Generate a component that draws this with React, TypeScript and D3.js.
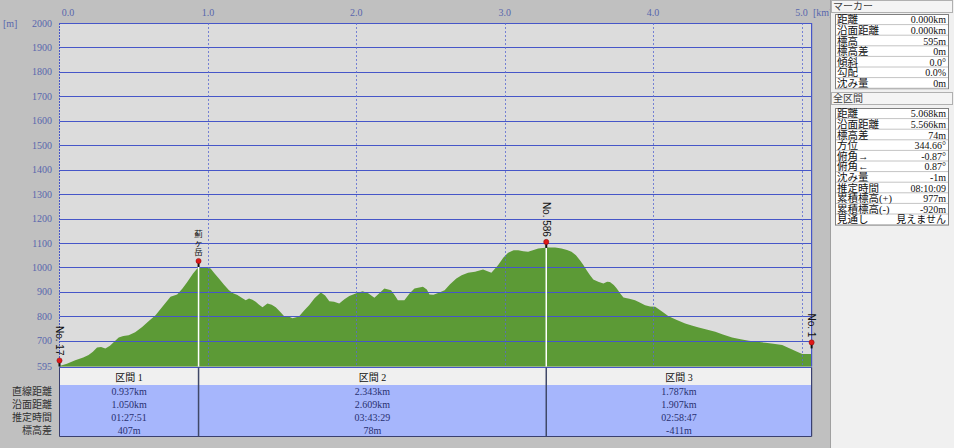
import * as d3 from 'd3';

const W = 954;
const H = 448;

// elevation profile (horizontal km, metres)
const profileKm = [
  0.0, 0.05, 0.106, 0.16, 0.196, 0.225, 0.253, 0.28, 0.309, 0.34, 0.399, 0.43, 0.466, 0.51, 0.557, 0.6, 0.647,
  0.7, 0.748, 0.793, 0.83, 0.861, 0.9, 0.928, 0.955, 0.985, 1.018, 1.045, 1.074, 1.11, 1.142, 1.17, 1.199, 1.23,
  1.255, 1.277, 1.3, 1.322, 1.345, 1.368, 1.401, 1.43, 1.457, 1.485, 1.514, 1.545, 1.57, 1.595, 1.615, 1.65, 1.682,
  1.72, 1.761, 1.79, 1.818, 1.85, 1.885, 1.92, 1.953, 2.0, 2.043, 2.08, 2.122, 2.155, 2.189, 2.234, 2.26, 2.28,
  2.324, 2.36, 2.392, 2.449, 2.475, 2.493, 2.52, 2.56, 2.595, 2.63, 2.674, 2.71, 2.753, 2.8, 2.854, 2.88, 2.91,
  2.955, 2.99, 3.023, 3.06, 3.091, 3.125, 3.158, 3.195, 3.226, 3.289, 3.34, 3.383, 3.42, 3.45, 3.48, 3.507, 3.53,
  3.552, 3.575, 3.597, 3.63, 3.665, 3.69, 3.709, 3.735, 3.755, 3.78, 3.8, 3.84, 3.878, 3.91, 3.946, 3.98, 4.014,
  4.06, 4.104, 4.16, 4.216, 4.26, 4.307, 4.36, 4.419, 4.47, 4.532, 4.59, 4.645, 4.7, 4.757, 4.81, 4.87, 4.91,
  4.937, 4.97, 5.005, 5.068,
];
const profileElev = [
  597, 606, 621, 632, 642, 655, 673, 675, 669, 680, 714, 720, 723, 735, 757, 780, 805,
  845, 880, 890, 915, 941, 975, 996, 1002, 1002, 996, 975, 955, 928, 907, 895, 887, 875,
  866, 873, 868, 860, 848, 837, 853, 848, 837, 820, 801, 800, 792, 796, 801, 825, 846,
  875, 898, 885, 862, 860, 853, 870, 883, 895, 903, 895, 876, 895, 914, 907, 885, 866,
  866, 895, 914, 921, 910, 890, 888, 898, 907, 930, 955, 968, 978, 983, 992, 986, 978,
  1009, 1040, 1060, 1070, 1071, 1066, 1064, 1072, 1078, 1082, 1082, 1078, 1072, 1064, 1050, 1030, 1010,
  989, 968, 951, 942, 935, 942, 941, 928, 914, 893, 877, 872, 866, 857, 846, 840, 839,
  820, 801, 785, 771, 763, 755, 746, 737, 726, 714, 706, 700, 696, 692, 688, 683, 672,
  665, 655, 646, 646,
];

const yTicks = [595, 700, 800, 900, 1000, 1100, 1200, 1300, 1400, 1500, 1600, 1700, 1800, 1900, 2000];
const xTicks = [0, 1, 2, 3, 4, 5];

const sectionBounds = [0, 0.937, 3.28, 5.068];
const sectionNames = ['区間 1', '区間 2', '区間 3'];
const straightDist = ['0.937km', '2.343km', '1.787km'];
const surfaceDist = ['1.050km', '2.609km', '1.907km'];
const estTime = ['01:27:51', '03:43:29', '02:58:47'];
const elevDiff = ['407m', '78m', '-411m'];
const rowLabels = ['直線距離', '沿面距離', '推定時間', '標高差'];

const markerNames = ['No. 17', '薊ヶ岳', 'No. 586', 'No. 1'];
const markerKm = [0, 0.937, 3.28, 5.068];
const markerElev = [595, 1002, 1080, 669];

const markerInfoLabels = ['距離', '沿面距離', '標高', '標高差', '傾斜', '勾配', '沈み量'];
const markerInfoValues = ['0.000km', '0.000km', '595m', '0m', '0.0°', '0.0%', '0m'];
const totalLabels = ['距離', '沿面距離', '標高差', '方位', '俯角→', '俯角←', '沈み量', '推定時間', '累積標高(+)', '累積標高(-)', '見通し'];
const totalValues = ['5.068km', '5.566km', '74m', '344.66°', '-0.87°', '0.87°', '-1m', '08:10:09', '977m', '-920m', '見えません'];

const serif = "'Liberation Serif', 'Noto Sans CJK JP', serif";
const sans = "'Liberation Sans', 'Noto Sans CJK JP', sans-serif";

const plotLeft = 59.5;
const plotRight = 811.6;
const plotTop = 23;
const plotBottom = 366.5;

const x = d3.scaleLinear().domain([0, 5.068]).range([plotLeft, plotRight]);
const y = d3.scaleLinear().domain([595, 2000]).range([plotBottom, plotTop]);
const crisp = (v: number) => Math.round(v) + 0.5;

const profile = profileKm.map((k, i) => ({ km: k, elev: profileElev[i] }));
const area = d3
  .area<{ km: number; elev: number }>()
  .x((d) => x(d.km))
  .y0(plotBottom)
  .y1((d) => y(d.elev));

const InfoTable = ({ top, labels, values }: { top: number; labels: string[]; values: string[] }) => {
  const rowH = 10.6;
  return (
    <g>
      <rect x={835.5} y={top} width={113} height={labels.length * rowH} fill="#ffffff" stroke="#808080" />
      {labels.map((l, i) => (
        <g key={l + i}>
          <line x1={836} x2={948} y1={top + (i + 1) * rowH - 0.5} y2={top + (i + 1) * rowH - 0.5} stroke="#c4c4c4" />
          <text x={837} y={top + i * rowH + 8.8} fontSize={10.5} fontFamily={serif} fill="#101010">{l}</text>
          <text x={946} y={top + i * rowH + 8.8} fontSize={10} fontFamily={serif} fill="#101010" textAnchor="end">{values[i]}</text>
        </g>
      ))}
    </g>
  );
};

export default function App() {
  const tableTop = 367.5;
  const headH = 17.5;
  const rowY = [391, 404, 417, 430];
  const rowsData = [straightDist, surfaceDist, estTime, elevDiff];

  return (
    <svg width={W} height={H} style={{ position: 'absolute', left: 0, top: 0 }}>
      <rect x={0} y={0} width={W} height={H} fill="#c0c0c0" />

      {/* plot */}
      <rect x={plotLeft} y={plotTop} width={plotRight - plotLeft} height={plotBottom - plotTop} fill="#dcdcdc" />
      <path d={area(profile) || ''} fill="#5c9a36" />

      {yTicks.map((t) => (
        <g key={t}>
          <line x1={plotLeft} x2={plotRight} y1={crisp(y(t))} y2={crisp(y(t))} stroke="#4656c8" strokeWidth={1.2} />
          <text x={52} y={y(t) + 3.5} fontSize={10} fontFamily={serif} fill="#5866ad" textAnchor="end">{t}</text>
        </g>
      ))}
      {xTicks.map((t) => (
        <g key={t}>
          {t > 0 && (
            <line x1={crisp(x(t))} x2={crisp(x(t))} y1={plotTop} y2={plotBottom} stroke="#5a6ad0" strokeWidth={0.8} strokeDasharray="2,2" />
          )}
          <text x={t === 0 ? x(t) + 8.5 : x(t)} y={16} fontSize={10} fontFamily={serif} fill="#5866ad" textAnchor="middle">
            {t.toFixed(1)}
          </text>
        </g>
      ))}
      <line x1={plotLeft} x2={plotLeft} y1={plotTop} y2={plotBottom} stroke="#4656c8" strokeWidth={1} strokeDasharray="2,1" />
      <line x1={plotRight} x2={plotRight} y1={plotTop} y2={plotBottom} stroke="#4656c8" strokeWidth={1.2} />
      <text x={3} y={27} fontSize={10} fontFamily={serif} fill="#5866ad">[m]</text>
      <text x={813} y={16} fontSize={10} fontFamily={serif} fill="#5866ad">[km]</text>

      {/* markers */}
      {markerKm.map((k, i) => {
        const mx = x(k);
        const my = y(markerElev[i]);
        const name = markerNames[i];
        const vertical = /[^\x00-\x7f]/.test(name);
        const inner = i > 0 && i < markerKm.length - 1;
        return (
          <g key={name}>
            {inner && <line x1={mx} x2={mx} y1={my} y2={plotBottom} stroke="#ffffff" strokeWidth={1.5} />}
            <line x1={mx} x2={mx} y1={my - 5} y2={my} stroke="#111" strokeWidth={2} />
            <circle cx={mx} cy={my - 6} r={2.6} fill="#e01818" stroke="#801010" strokeWidth={0.5} />
            {vertical ? (
              <text fontSize={8.5} fontFamily={sans} fill="#111" textAnchor="middle">
                {name.split('').map((c, j) => (
                  <tspan key={j} x={mx} y={my - 29.5 + j * 9}>{c}</tspan>
                ))}
              </text>
            ) : (
              <text
                transform={`translate(${mx - 3.3},${my - 11}) rotate(90)`}
                fontSize={10}
                fontFamily={sans}
                fill="#111"
                textAnchor="end"
              >
                {name}
              </text>
            )}
          </g>
        );
      })}

      {/* section table */}
      <rect x={plotLeft} y={tableTop} width={plotRight - plotLeft} height={headH} fill="#f0f0f0" />
      <rect x={plotLeft} y={tableTop + headH} width={plotRight - plotLeft} height={436 - tableTop - headH} fill="#a6b6fc" />
      <line x1={plotLeft} x2={plotRight} y1={tableTop} y2={tableTop} stroke="#4656c8" strokeWidth={1.2} />
      <line x1={plotLeft} x2={plotRight} y1={436.5} y2={436.5} stroke="#3a4070" strokeWidth={1.2} />
      <line x1={plotLeft} x2={plotLeft} y1={tableTop} y2={436.5} stroke="#3a4070" strokeWidth={1} />
      <line x1={plotRight} x2={plotRight} y1={tableTop} y2={436.5} stroke="#3a4070" strokeWidth={1.2} />
      {sectionNames.map((s, i) => {
        const x0 = x(sectionBounds[i]);
        const x1 = x(sectionBounds[i + 1]);
        const cx = (x0 + x1) / 2;
        return (
          <g key={s}>
            {i > 0 && <line x1={x0} x2={x0} y1={tableTop} y2={436.5} stroke="#404868" strokeWidth={1.5} />}
            <text x={cx} y={tableTop + 13} fontSize={10} fontFamily={serif} fill="#101010" textAnchor="middle">{s}</text>
            {rowsData.map((r, j) => (
              <text key={j} x={cx} y={rowY[j] + 3.5} fontSize={10} fontFamily={serif} fill="#283070" textAnchor="middle">{r[i]}</text>
            ))}
          </g>
        );
      })}
      {rowLabels.map((l, j) => (
        <text key={l} x={52} y={rowY[j] + 3.5} fontSize={10} fontFamily={serif} fill="#303030" textAnchor="end">{l}</text>
      ))}

      {/* side panel */}
      <rect x={830} y={0} width={124} height={H} fill="#f0f0f0" />
      <line x1={830.5} x2={830.5} y1={0} y2={H} stroke="#a0a0a0" />
      <rect x={831.5} y={0.5} width={121} height={12} fill="#f4f4f4" stroke="#b0b0b0" />
      <text x={833} y={10} fontSize={10} fontFamily={serif} fill="#404040">マーカー</text>
      <InfoTable top={14.5} labels={markerInfoLabels} values={markerInfoValues} />
      <rect x={831.5} y={92.5} width={121} height={12} fill="#f4f4f4" stroke="#b0b0b0" />
      <text x={833} y={102} fontSize={10} fontFamily={serif} fill="#404040">全区間</text>
      <InfoTable top={108.5} labels={totalLabels} values={totalValues} />
    </svg>
  );
}
